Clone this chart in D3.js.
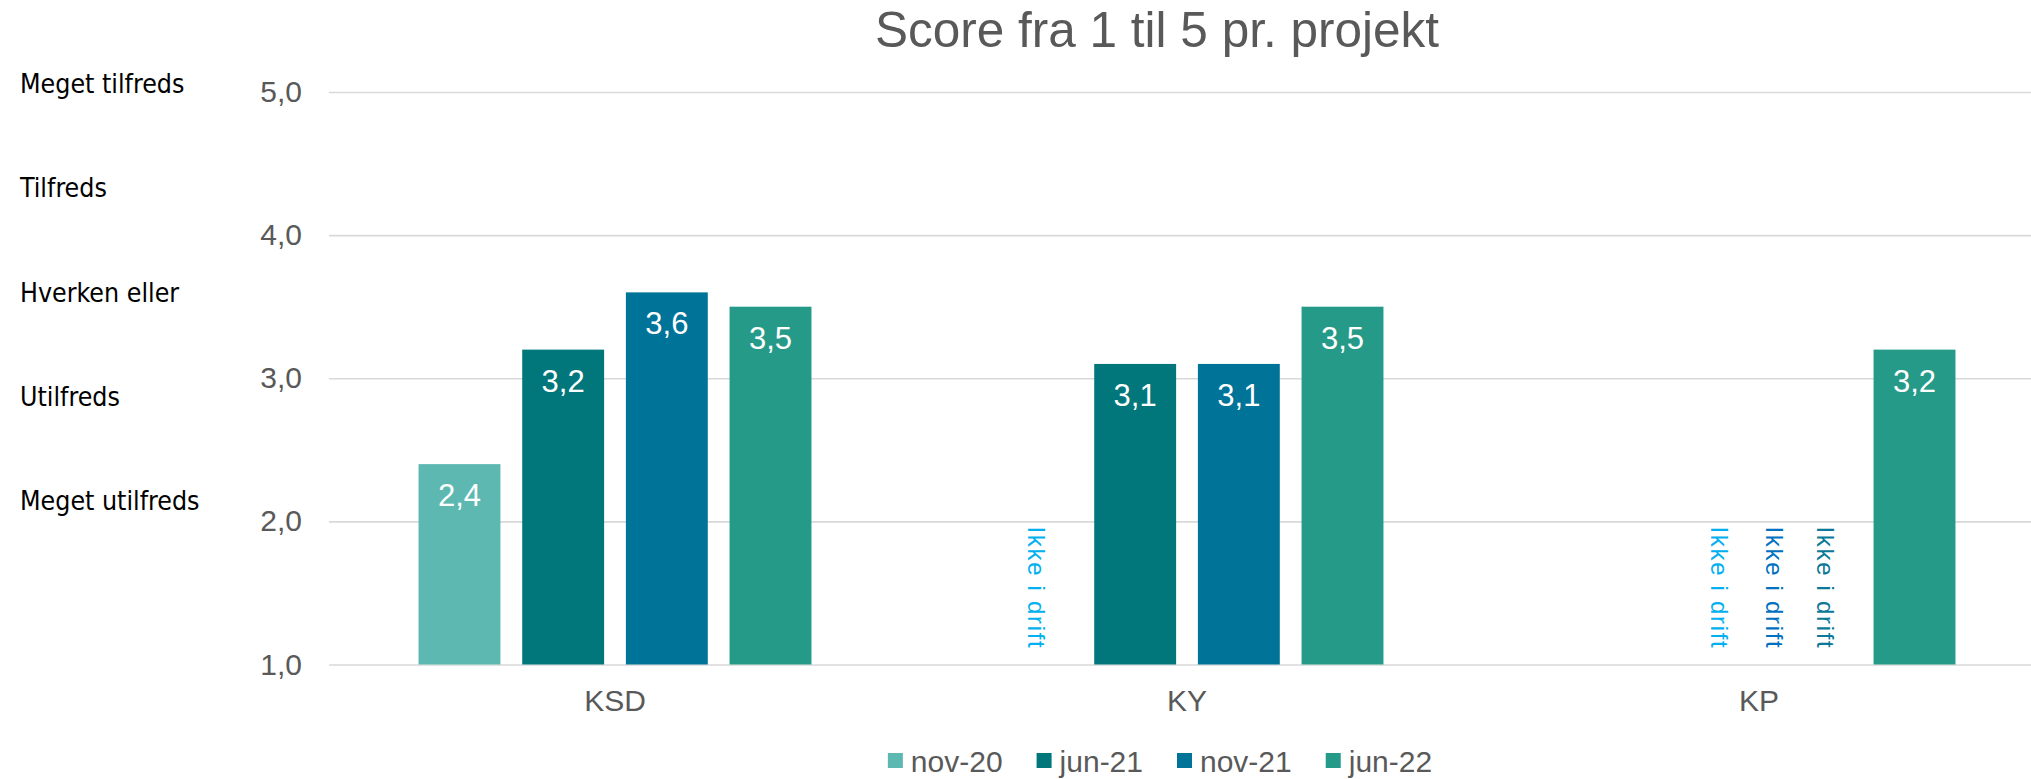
<!DOCTYPE html>
<html>
<head>
<meta charset="utf-8">
<script src="https://cdn.jsdelivr.net/npm/d3@7"></script>
<style>
    body { margin: 0; background: #fff; }
    svg { display: block; }
</style>
</head>
<body>
<svg id="chart"></svg>
<script>
// data
const categories = ['KSD', 'KY', 'KP'];
const seriesNames = ['nov-20', 'jun-21', 'nov-21', 'jun-22'];
const nov20 = [2.4, null, null];
const jun21 = [3.2, 3.1, null];
const nov21 = [3.6, 3.1, null];
const jun22 = [3.5, 3.5, 3.2];
const yTicks = [1, 2, 3, 4, 5];
const scaleLabels = ['Meget tilfreds', 'Tilfreds', 'Hverken eller', 'Utilfreds', 'Meget utilfreds'];
const missingText = 'Ikke i drift';
const chartTitle = 'Score fra 1 til 5 pr. projekt';

const seriesValues = [nov20, jun21, nov21, jun22];
const barColors = ['#5db8b2', '#02777b', '#007398', '#269a88'];
const missingColors = ['#00b0f0', '#0070c0', '#0a7896'];

class GroupedBarchart {
    constructor(_config) {
        this.config = {
            parentElement: _config.parentElement || 'body',
            width: _config.width || 2031,
            height: _config.height || 779,
            margin: _config.margin || { top: 92, right: -14, bottom: 114.5, left: 329 }
        };
        this.initVis();
    }

    initVis() {
        const that = this;
        const c = that.config;

        that.boundedWidth = c.width - c.margin.left - c.margin.right;
        that.boundedHeight = c.height - c.margin.top - c.margin.bottom;

        that.svg = d3.select(c.parentElement)
            .attr('width', c.width)
            .attr('height', c.height);

        that.bounds = that.svg.append('g')
            .attr('transform', `translate(${c.margin.left},${c.margin.top})`);

        // scales
        that.yScale = d3.scaleLinear()
            .domain([1, 5])
            .range([that.boundedHeight, 0]);

        that.x0 = d3.scaleBand()
            .domain(categories)
            .range([0, that.boundedWidth])
            .paddingInner(0.275)
            .paddingOuter(0.1375);

        that.x1 = d3.scaleBand()
            .domain(seriesNames)
            .range([0, that.x0.bandwidth()])
            .paddingInner(0.21)
            .paddingOuter(0.105);

        that.color = d3.scaleOrdinal().domain(seriesNames).range(barColors);

        that.fmt = d3.formatLocale({ decimal: ',', thousands: '.', grouping: [3], currency: ['', ''] }).format('.1f');
    }

    updateVis() {
        const that = this;

        // flatten into one row per bar
        that.bars = [];
        categories.forEach((cat, i) => {
            seriesNames.forEach((s, j) => {
                that.bars.push({ cat: cat, series: s, value: seriesValues[j][i], idx: j });
            });
        });

        that.renderVis();
    }

    renderVis() {
        const that = this;
        const font = '"Liberation Sans", Arial, sans-serif';

        // gridlines + y axis labels
        const yAxis = d3.axisLeft(that.yScale)
            .tickValues(yTicks)
            .tickSize(-that.boundedWidth)
            .tickFormat(that.fmt)
            .tickPadding(27);

        const yG = that.bounds.append('g').call(yAxis);
        yG.select('.domain').remove();
        yG.selectAll('.tick line')
            .attr('stroke', '#d9d9d9')
            .attr('stroke-width', 1.6);
        yG.selectAll('.tick text')
            .attr('fill', '#595959')
            .style('font-family', font)
            .style('font-size', '30px');

        // category axis
        const xAxis = d3.axisBottom(that.x0).tickSize(0).tickPadding(25);
        const xG = that.bounds.append('g')
            .attr('transform', `translate(0,${that.boundedHeight})`)
            .call(xAxis);
        xG.select('.domain').remove();
        xG.selectAll('.tick text')
            .attr('fill', '#595959')
            .style('font-family', font)
            .style('font-size', '30px');

        const present = that.bars.filter(d => d.value !== null);

        // bars
        that.bounds.selectAll('rect.bar')
            .data(present)
            .join('rect')
            .attr('class', 'bar')
            .attr('x', d => that.x0(d.cat) + that.x1(d.series))
            .attr('y', d => that.yScale(d.value))
            .attr('width', that.x1.bandwidth())
            .attr('height', d => that.boundedHeight - that.yScale(d.value))
            .attr('fill', d => that.color(d.series));

        // value labels inside bars
        that.bounds.selectAll('text.value')
            .data(present)
            .join('text')
            .attr('class', 'value')
            .attr('x', d => that.x0(d.cat) + that.x1(d.series) + that.x1.bandwidth() / 2)
            .attr('y', d => that.yScale(d.value) + 42)
            .attr('text-anchor', 'middle')
            .attr('fill', '#fff')
            .style('font-family', font)
            .style('font-size', '31px')
            .text(d => that.fmt(d.value));

        // "Ikke i drift" labels for missing values (hand-nudged like the original)
        const nudge = { 'KY|nov-20': -3, 'KP|nov-20': 108, 'KP|jun-21': 59, 'KP|nov-21': 6 };
        const missing = that.bars.filter(d => d.value === null);
        that.bounds.selectAll('text.missing')
            .data(missing)
            .join('text')
            .attr('class', 'missing')
            .attr('transform', d => {
                const x = that.x0(d.cat) + that.x1(d.series) + that.x1.bandwidth() / 2 + (nudge[d.cat + '|' + d.series] || 0);
                const y = that.yScale(2) + 5;
                return `translate(${x},${y}) rotate(90)`;
            })
            .attr('fill', d => missingColors[d.idx])
            .style('font-family', font)
            .style('font-size', '24px')
            .style('letter-spacing', '1.7px')
            .text(missingText);

        // title
        that.svg.append('text')
            .attr('x', 1157)
            .attr('y', 46.5)
            .attr('text-anchor', 'middle')
            .attr('fill', '#595959')
            .style('font-family', font)
            .style('font-size', '49.5px')
            .text(chartTitle);

        // satisfaction labels on the left
        const labelY = d3.scalePoint().domain(scaleLabels).range([93, 510]);
        that.svg.selectAll('text.scale-label')
            .data(scaleLabels)
            .join('text')
            .attr('class', 'scale-label')
            .attr('x', 20)
            .attr('y', d => labelY(d))
            .attr('fill', '#000')
            .style('font-family', '"DejaVu Sans Condensed", "DejaVu Sans", sans-serif')
            .style('font-stretch', 'condensed')
            .style('font-size', '26.5px')
            .text(d => d);

        // legend
        const legend = that.svg.append('g');
        const items = legend.selectAll('g')
            .data(seriesNames)
            .join('g');
        items.append('rect')
            .attr('width', 15)
            .attr('height', 15)
            .attr('y', 753)
            .attr('fill', d => that.color(d));
        items.append('text')
            .attr('x', 23)
            .attr('y', 772)
            .attr('fill', '#595959')
            .style('font-family', font)
            .style('font-size', '30px')
            .text(d => d);

        let xPos = 0;
        items.each(function () {
            const w = d3.select(this).select('text').node().getComputedTextLength();
            d3.select(this).attr('transform', `translate(${xPos},0)`);
            xPos += 23 + w + 34;
        });
        const legendWidth = xPos - 34;
        legend.attr('transform', `translate(${1160 - legendWidth / 2},0)`);
    }
}

const chart = new GroupedBarchart({ parentElement: '#chart' });
chart.updateVis();
</script>
</body>
</html>
